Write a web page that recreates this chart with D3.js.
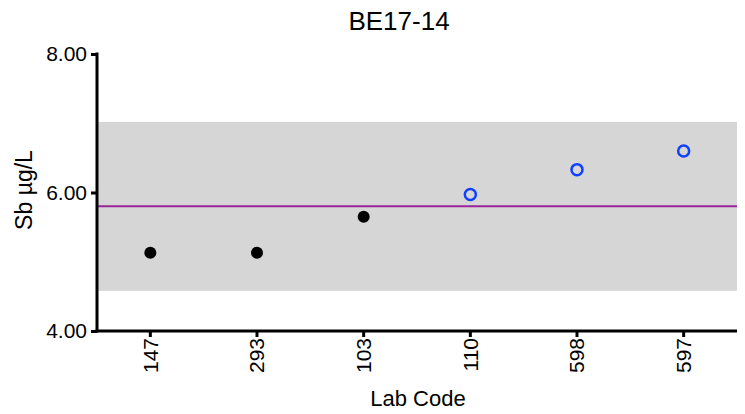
<!DOCTYPE html>
<html><head><meta charset="utf-8">
<script src="https://cdn.jsdelivr.net/npm/d3@7"></script>
<style>body{margin:0;background:#fff}svg{display:block}text{font-family:"Liberation Sans",Arial,sans-serif}</style>
</head><body>
<svg id="c" width="745" height="414"></svg>
<script>
const labs = ["147","293","103","110","598","597"];
const values = [5.13, 5.13, 5.65, 5.97, 6.33, 6.60];
const outlierFlag = [false,false,false,true,true,true];
const assigned = 5.80;
const bandLow = 4.58, bandHigh = 7.02;
const yTicks = [4, 6, 8];

const svg = d3.select("#c");
const L = 97, R = 737, T = 54, B = 331;
const x = d3.scaleBand().domain(labs).range([L, R]).padding(0);
const y = d3.scaleLinear().domain([4, 8]).range([B, T]);

svg.append("rect").attr("x", L).attr("width", R - L)
  .attr("y", y(bandHigh)).attr("height", y(bandLow) - y(bandHigh)).attr("fill", "#d6d6d6");
svg.append("line").attr("x1", L).attr("x2", R).attr("y1", y(assigned)).attr("y2", y(assigned))
  .attr("stroke", "#9b249b").attr("stroke-width", 2);

const yAxis = svg.append("g").attr("transform", `translate(${L},0)`)
  .call(d3.axisLeft(y).tickValues(yTicks).tickFormat(d3.format(".2f")).tickSize(6).tickSizeOuter(0));
yAxis.attr("font-size", null).attr("font-family", null);
yAxis.select(".domain").attr("stroke-width", 3).attr("d", `M0,${B+1.5}V${T-1.5}`);
yAxis.selectAll(".tick line").attr("stroke-width", 3);
yAxis.selectAll("text").style("font-size", "21px").attr("fill", "#000").attr("x", -10);

const xAxis = svg.append("g").attr("transform", `translate(0,${B})`)
  .call(d3.axisBottom(x).tickSize(6).tickSizeOuter(0));
xAxis.attr("font-size", null).attr("font-family", null);
xAxis.select(".domain").attr("stroke-width", 3).attr("d", `M${L-1.5},0H${R}`);
xAxis.selectAll(".tick line").attr("stroke-width", 3);
xAxis.selectAll("text").style("font-size", "21px").attr("fill", "#000")
  .attr("transform", "rotate(-90)").attr("x", -7).attr("y", 0).attr("dy", "0.35em")
  .attr("text-anchor", "end");

svg.selectAll(".pt").data(values).enter().append("circle")
  .attr("cx", (d, i) => x(labs[i]) + x.bandwidth() / 2)
  .attr("cy", d => y(d)).attr("r", (d,i) => outlierFlag[i] ? 5.5 : 6)
  .attr("fill", (d, i) => outlierFlag[i] ? "none" : "#000")
  .attr("stroke", (d, i) => outlierFlag[i] ? "#1040ff" : "none")
  .attr("stroke-width", 2.5);

svg.append("text").attr("x", 399).attr("y", 30).attr("text-anchor", "middle")
  .style("font-size", "26px").text("BE17-14");
svg.append("text").attr("x", 418).attr("y", 406).attr("text-anchor", "middle")
  .style("font-size", "22px").text("Lab Code");
svg.append("text").attr("transform", "translate(32,190) rotate(-90)").attr("text-anchor", "middle")
  .style("font-size", "23px").text("Sb µg/L");
</script>
</body></html>
